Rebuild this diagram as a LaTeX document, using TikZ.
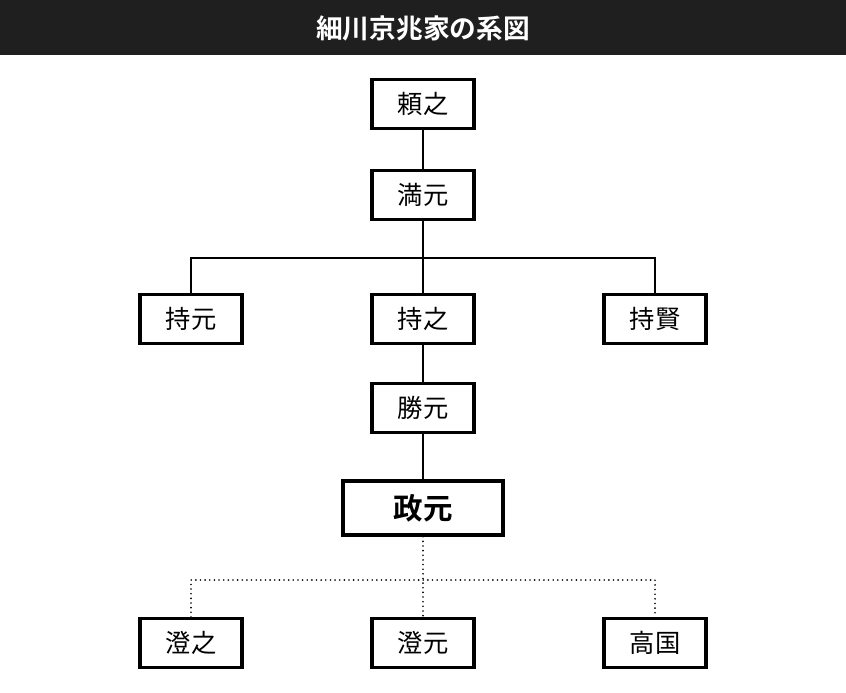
\documentclass[tikz,border=0pt]{standalone}
\usepackage{fontspec}
\newfontfamily\jp{Noto Sans CJK JP}
\newfontfamily\jpb{Noto Sans CJK JP Bold}
\begin{document}
\begin{tikzpicture}[x=0.025cm,y=-0.025cm,
	person/.style={draw, line width=2.4pt, minimum width=2.55cm, minimum height=1.22cm, font=\jp\fontsize{18}{18}\selectfont, inner sep=0pt},
	heir/.style={person, minimum width=4cm, minimum height=1.35cm, font=\jpb\fontsize{21}{21}\selectfont},
	kin/.style={line width=1.2pt},
	adopt/.style={line width=1.3pt, line cap=round, dash pattern=on 0pt off 3.3pt}]
	\useasboundingbox (0,0) rectangle (846,692);
	\fill[black!88] (0,0) rectangle (846,55);
	\node[white, font=\jpb\fontsize{19}{19}\selectfont] (title) at (423,28) {細川京兆家の系図};

	\node[person] (yoriyuki) at (423,104) {頼之};
	\node[person] (mitsumoto) at (423,195) {満元};
	\node[person] (mochimoto) at (191,319) {持元};
	\node[person] (mochiyuki) at (423,319) {持之};
	\node[person] (mochikata) at (655,319) {持賢};
	\node[person] (katsumoto) at (423,408) {勝元};
	\node[heir] (masamoto) at (423,508) {政元};
	\node[person] (sumiyuki) at (191,643) {澄之};
	\node[person] (sumimoto) at (423,643) {澄元};
	\node[person] (takakuni) at (655,643) {高国};

	\coordinate (fork) at (423,258);
	\coordinate (dfork) at (423,580);

	\draw[kin] (yoriyuki) -- (mitsumoto);
	\draw[kin] (mitsumoto) -- (mochiyuki);
	\draw[kin] (mochimoto.north) |- (fork) -| (mochikata.north);
	\draw[kin] (mochiyuki) -- (katsumoto);
	\draw[kin] (katsumoto) -- (masamoto);

	\draw[adopt] (masamoto) -- (sumimoto);
	\draw[adopt] (sumiyuki.north) |- (dfork) -| (takakuni.north);
\end{tikzpicture}
\end{document}
